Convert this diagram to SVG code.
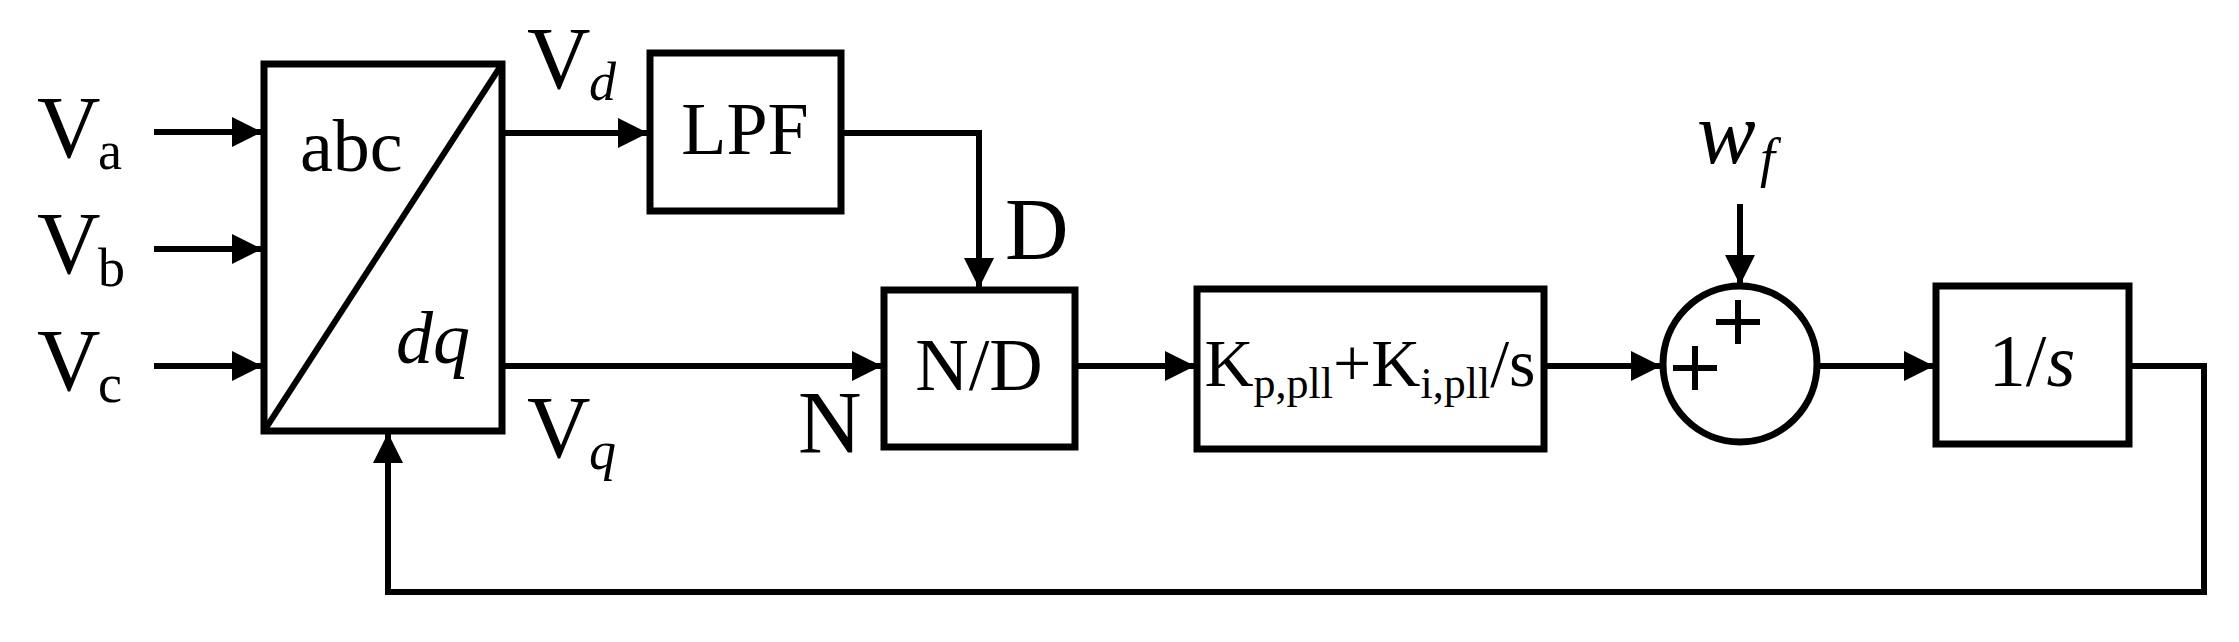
<svg xmlns="http://www.w3.org/2000/svg" width="2239" height="642" viewBox="0 0 2239 642" font-family="'Liberation Serif', 'Times New Roman', 'DejaVu Serif', serif">
<style>
.b{fill:#fff;stroke:#000;stroke-width:7}
.c{fill:none;stroke:#000;stroke-width:6}
text{fill:#000}
.t{font-size:74px}
.L{font-size:88px}
.s{font-size:54px}
</style>
<defs>
<marker id="ah" viewBox="0 0 10 10" refX="10" refY="5" markerWidth="30" markerHeight="34" markerUnits="userSpaceOnUse" orient="auto"><path d="M0,0L10,5L0,10z" fill="#000"/></marker></defs>
<rect width="2239" height="642" fill="#fff"/>
<g id="connectors" class="c">
<path d="M154 132H262" marker-end="url(#ah)"/>
<path d="M154 249H262" marker-end="url(#ah)"/>
<path d="M154 366H262" marker-end="url(#ah)"/>
<path d="M502 133H648" marker-end="url(#ah)"/>
<path d="M841 133H979V288" marker-end="url(#ah)"/>
<path d="M502 366H882" marker-end="url(#ah)"/>
<path d="M1075 366H1195" marker-end="url(#ah)"/>
<path d="M1544 366H1661" marker-end="url(#ah)"/>
<path d="M1740 204V285" marker-end="url(#ah)"/>
<path d="M1817 366H1934" marker-end="url(#ah)"/>
<path d="M2129 366H2204V592H388V433" marker-end="url(#ah)"/>
</g>
<g id="inputs">
<text x="37" y="157" class="L">V</text><text x="98" y="169" class="s">a</text>
<text x="37" y="273" class="L">V</text><text x="98" y="286" class="s">b</text>
<text x="37" y="390" class="L">V</text><text x="98" y="402" class="s">c</text>
</g>
<g id="abcdq"><rect x="264" y="64" width="238" height="367" class="b"/><path d="M264 431L502 64" class="c"/>
<text x="300" y="171" class="t">abc</text><text x="396" y="363" class="t" font-style="italic">dq</text></g>
<g id="vd"><text x="527" y="88" class="L">V</text><text x="589" y="100" class="s" font-style="italic">d</text></g>
<g id="vq"><text x="527" y="457" class="L">V</text><text x="589" y="469" class="s" font-style="italic">q</text></g>
<g id="lpf"><rect x="650" y="53" width="191" height="158" class="b"/><text x="745" y="154" class="t" text-anchor="middle">LPF</text></g>
<g id="dlabel"><text x="1005" y="259" class="L">D</text></g>
<g id="nlabel"><text x="798" y="452" class="L">N</text></g>
<g id="nd"><rect x="884" y="290" width="191" height="157" class="b"/><text x="979" y="390" class="t" text-anchor="middle">N/D</text></g>
<g id="pi"><rect x="1197" y="289" width="347" height="160" class="b"/>
<text x="1370" y="386" text-anchor="middle" font-size="68">K<tspan font-size="44" dy="12">p,pll</tspan><tspan dy="-12">+K</tspan><tspan font-size="44" dy="12">i,pll</tspan><tspan dy="-12">/s</tspan></text></g>
<g id="sum"><ellipse cx="1740" cy="364" rx="77" ry="78" class="b"/>
<path d="M1738 300V344M1716 322H1760M1695 346V390M1673 368H1717" class="c" stroke-width="5"/></g>
<g id="wf"><text x="1697" y="163" class="L" font-style="italic">w</text><text x="1760" y="176" class="s" font-style="italic">f</text></g>
<g id="int"><rect x="1936" y="286" width="193" height="158" class="b"/><text x="2032" y="386" class="t" text-anchor="middle">1/<tspan font-style="italic">s</tspan></text></g>
</svg>
